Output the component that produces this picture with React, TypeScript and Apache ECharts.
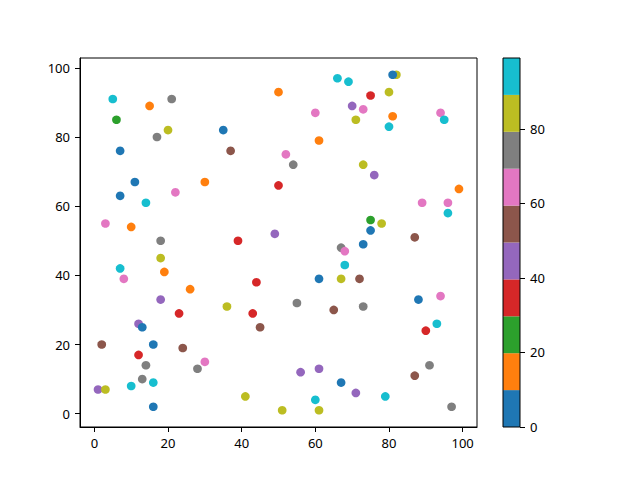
import React, { useEffect, useRef } from "react";
import * as echarts from "echarts";

// point x positions
const xs = [5, 15, 21, 6, 20, 17, 7, 11, 30, 66, 69, 50, 70, 60, 35, 61, 37, 52, 54, 50,
  82, 81, 80, 75, 73, 71, 81, 80, 94, 95, 73, 76, 99, 7, 22, 14, 3, 10, 18, 18,
  7, 19, 8, 26, 18, 23, 49, 39, 67, 68, 68, 61, 67, 44, 55, 36, 65, 43, 89, 96,
  96, 75, 78, 75, 87, 73, 72, 88, 94, 73, 12, 13, 2, 16, 24, 12, 30, 14, 28, 13,
  16, 10, 1, 3, 16, 45, 56, 61, 67, 41, 60, 51, 61, 93, 90, 91, 87, 71, 79, 97];
// point y positions
const ys = [91, 89, 91, 85, 82, 80, 76, 67, 67, 97, 96, 93, 89, 87, 82, 79, 76, 75, 72, 66,
  98, 98, 93, 92, 88, 85, 86, 83, 87, 85, 72, 69, 65, 63, 64, 61, 55, 54, 50, 45,
  42, 41, 39, 36, 33, 29, 52, 50, 48, 47, 43, 39, 39, 38, 32, 31, 30, 29, 61, 61,
  58, 56, 55, 53, 51, 49, 39, 33, 34, 31, 26, 25, 20, 20, 19, 17, 15, 14, 13, 10,
  9, 8, 7, 7, 2, 25, 12, 13, 9, 5, 4, 1, 1, 26, 24, 14, 11, 6, 5, 2];
// point colour values
const cs = [94, 14, 74, 24, 84, 74, 4, 4, 14, 94, 94, 14, 44, 64, 4, 14, 54, 64, 74, 34,
  84, 4, 84, 34, 64, 84, 14, 94, 64, 94, 84, 44, 14, 4, 64, 94, 64, 14, 74, 84,
  94, 14, 64, 14, 44, 34, 44, 34, 74, 64, 94, 4, 84, 34, 74, 84, 54, 34, 64, 64,
  94, 24, 84, 4, 54, 4, 54, 4, 64, 74, 44, 4, 54, 4, 54, 34, 64, 74, 74, 74,
  94, 94, 44, 84, 4, 54, 44, 44, 4, 84, 94, 84, 84, 94, 34, 74, 54, 44, 94, 74];

const tab10 = ["#1f77b4", "#ff7f0e", "#2ca02c", "#d62728", "#9467bd", "#8c564b", "#e377c2", "#7f7f7f", "#bcbd22", "#17becf"];
// colour bar step heights (0 .. 99)
const cbarSteps = [9.9, 9.9, 9.9, 9.9, 9.9, 9.9, 9.9, 9.9, 9.9, 9.9];
const cbarTicks = [0, 20, 40, 60, 80];
const axisTicks = [0, 20, 40, 60, 80, 100];

export default function App() {
  const ref = useRef<HTMLDivElement>(null);
  useEffect(() => {
    if (!ref.current) return;
    const chart = echarts.init(ref.current, null, { renderer: "svg" });
    const font = { fontFamily: "Noto Sans", fontSize: 13, color: "#000" };
    const valueAxisCommon = (min: number, max: number, ticks: number[]) => ({
      type: "value" as const,
      min,
      max,
      splitLine: { show: false },
      axisLine: { show: true, onZero: false, lineStyle: { color: "#000", width: 1 } },
      axisTick: { show: true, inside: false, length: 5, customValues: ticks, lineStyle: { color: "#000" } },
      axisLabel: { ...font, margin: 9, customValues: ticks },
    });
    const pieces = cbarSteps.map((s, i) => {
      let lo = 0;
      for (let k = 0; k < i; k++) lo += cbarSteps[k];
      return { gte: lo, lt: lo + s, color: tab10[i] };
    });
    let acc = 0;
    const cbarSeries = cbarSteps.map((s, i) => ({
      type: "bar" as const,
      xAxisIndex: 1,
      yAxisIndex: 1,
      stack: "cb",
      barWidth: "100%",
      data: [s],
      itemStyle: { color: tab10[i] },
      silent: true,
    }));
    acc = acc;
    chart.setOption({
      animation: false,
      backgroundColor: "#fff",
      grid: [
        { left: 80, top: 58, width: 397, height: 369, show: true, borderColor: "#000", borderWidth: 1, backgroundColor: "transparent" },
        { left: 503, top: 58, width: 17, height: 369, show: true, borderColor: "#000", borderWidth: 1, backgroundColor: "transparent", z: 10 },
      ],
      xAxis: [
        { gridIndex: 0, ...valueAxisCommon(-3.9, 103.9, axisTicks) },
        { gridIndex: 1, type: "category", data: ["c"], show: false, boundaryGap: true },
      ],
      yAxis: [
        { gridIndex: 0, ...valueAxisCommon(-3.85, 102.85, axisTicks), axisLabel: { ...font, margin: 10, customValues: axisTicks } },
        {
          gridIndex: 1,
          ...valueAxisCommon(0, 99, cbarTicks),
          position: "right",
          axisLine: { show: false },
          axisLabel: { ...font, margin: 10, customValues: cbarTicks },
        },
      ],
      visualMap: {
        type: "piecewise",
        show: false,
        seriesIndex: 0,
        dimension: 2,
        pieces,
      },
      series: [
        {
          type: "scatter",
          xAxisIndex: 0,
          yAxisIndex: 0,
          symbolSize: 8.7,
          data: xs.map((x, i) => [x, ys[i], cs[i]]),
          itemStyle: { opacity: 1 },
        },
        ...cbarSeries,
      ],
    });
    return () => chart.dispose();
  }, []);
  return <div ref={ref} style={{ position: "fixed", left: 0, top: 0, width: 640, height: 480 }} />;
}
